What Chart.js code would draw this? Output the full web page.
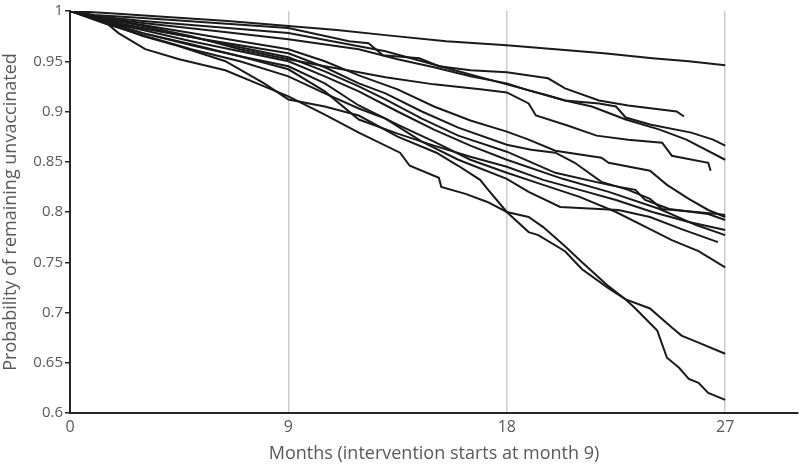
<!DOCTYPE html>
<html>
<head>
<meta charset="utf-8">
<script src="https://cdn.jsdelivr.net/npm/chart.js@4"></script>
<style>
  html, body { margin: 0; padding: 0; background: #fff; }
  #wrap { width: 800px; height: 465px; }
</style>
</head>
<body>
<div id="wrap"><canvas id="kmChart" width="800" height="465"></canvas></div>
<script>
// tick labels
const xTicks = [0, 9, 18, 27];
const yTicks = [0.6, 0.65, 0.7, 0.75, 0.8, 0.85, 0.9, 0.95, 1];

// one array per curve: [month, probability remaining unvaccinated]
const curveA = [[0,1],[1.5,.998],[4,.994],[6.5,.990],[9,.985],[11,.981],[13,.976],[15.5,.970],[18,.966],[20,.962],[22,.958],[24,.953],[25.5,.950],[27,.946]];
const curveB = [[0,1],[1,.996],[3,.993],[6,.988],[9,.983],[11.5,.970],[12.3,.968],[12.9,.956],[14.4,.953],[15.2,.945],[16.5,.941],[18,.939],[19.7,.933],[20.4,.923],[21.8,.911],[23,.906],[25,.900],[25.3,.895]];
const curveC = [[0,1],[1,.995],[3,.990],[6,.984],[9,.978],[11.9,.965],[13,.960],[14.5,.950],[16,.940],[18,.927],[19.7,.916],[20.4,.911],[21.8,.908],[22.5,.905],[22.9,.894],[23.9,.887],[25.6,.879],[26.5,.872],[27,.866]];
const curveD = [[0,1],[1,.994],[3,.988],[6,.980],[9,.972],[11.9,.962],[13.5,.952],[15,.944],[16.5,.935],[18,.928],[18.9,.921],[20.4,.911],[21.5,.905],[22.9,.892],[24.3,.882],[25.4,.872],[27,.852]];
const curveE = [[0,1],[1.5,.992],[3,.985],[5,.975],[7,.962],[9,.952],[10.5,.945],[11.9,.939],[13,.934],[15,.927],[17,.922],[18,.919],[18.9,.908],[19.2,.896],[20.5,.886],[21.7,.876],[23,.872],[24.4,.869],[24.8,.856],[26.3,.849],[26.4,.841]];
const curveF = [[0,1],[1,.994],[3,.986],[5,.978],[7,.970],[9,.962],[10.5,.950],[11.9,.936],[13.5,.922],[15,.905],[16.5,.891],[18,.880],[18.9,.872],[20,.861],[21.9,.854],[22.2,.849],[23.9,.841],[24.6,.827],[25.5,.813],[26.3,.802],[27,.795]];
const curveG = [[0,1],[1,.993],[2.5,.985],[4.5,.976],[7,.966],[9,.958],[10.5,.944],[11.9,.928],[13,.918],[14.5,.900],[16,.884],[18,.867],[19,.862],[20,.859],[20.8,.849],[21.9,.830],[23,.822],[23.9,.813],[24.4,.803],[25.8,.800],[26.7,.798],[27,.797]];
const curveH = [[0,1],[1.5,.990],[3,.983],[5,.974],[7,.964],[9,.954],[10.5,.940],[11.9,.925],[13,.912],[14.5,.893],[16,.876],[18,.860],[20,.839],[22.2,.827],[23.3,.822],[23.7,.812],[24.7,.803],[26.3,.798],[27,.792]];
const curveI = [[0,1],[1.5,.989],[3,.981],[5,.970],[7,.960],[9,.950],[10.5,.935],[11.9,.920],[13.5,.900],[15,.882],[16.5,.866],[18,.852],[20.3,.833],[22.2,.820],[24.3,.803],[25.8,.787],[27,.777]];
const curveK = [[0,1],[1,.993],[3,.978],[5,.966],[7,.955],[9,.942],[10.5,.920],[11.9,.892],[13.5,.878],[15,.866],[16.5,.855],[18,.845],[19.5,.832],[21,.822],[22.5,.812],[24,.800],[25.5,.790],[27,.782]];
const curveL = [[0,1],[1.5,.988],[3,.978],[5,.967],[7,.955],[9,.945],[10.5,.928],[11.9,.906],[13.5,.887],[15,.870],[16.5,.852],[18,.839],[19.5,.827],[21,.815],[22.5,.800],[23.9,.783],[24.8,.772],[25.9,.761],[27,.745]];
const curveJ = [[0,1],[1.5,.987],[3,.976],[5,.962],[7,.950],[9,.935],[10.5,.918],[11.9,.903],[13,.893],[14.5,.870],[16,.852],[18,.833],[18.9,.820],[20.2,.805],[22.6,.802],[23.9,.795],[25.2,.783],[26.7,.770]];
const curveM = [[0,1],[1.4,.990],[2,.978],[3.1,.962],[4.5,.952],[6.4,.941],[8,.925],[9,.915],[10.5,.897],[11.9,.879],[13.6,.859],[14,.846],[15.2,.834],[15.3,.825],[16.3,.818],[17.2,.810],[18,.800],[18.9,.795],[19.5,.785],[20.4,.766],[21.1,.750],[22.2,.726],[22.9,.713],[23.9,.704],[24.8,.685],[25.2,.677],[25.9,.670],[27,.659]];
const curveN = [[0,1],[1.5,.988],[3,.975],[4.5,.965],[6.4,.950],[8,.928],[9,.912],[10.5,.905],[11.9,.896],[13.5,.875],[15.1,.859],[16,.846],[16.9,.832],[17.2,.823],[18,.800],[18.9,.780],[19.3,.777],[20.4,.761],[21.1,.743],[22.2,.724],[22.9,.713],[23.3,.704],[24.2,.682],[24.6,.655],[25.1,.645],[25.5,.634],[25.9,.630],[26.3,.620],[27,.613]];

const curves = [curveA, curveB, curveC, curveD, curveE, curveF, curveG, curveH, curveI, curveK, curveL, curveJ, curveM, curveN];

const fontFamily = '"Open Sans", "Liberation Sans", sans-serif';
const textColor = '#595959';

new Chart(document.getElementById('kmChart'), {
    type: 'line',
    data: {
        datasets: curves.map(c => ({
            data: c.map(p => ({x: p[0], y: p[1]})),
            borderColor: '#1a1a1a',
            borderWidth: 2,
            pointRadius: 0,
            tension: 0,
            fill: false
        }))
    },
    options: {
        responsive: false,
        animation: false,
        layout: { padding: { top: 7, right: 2, left: 0, bottom: 0 } },
        plugins: { legend: { display: false }, tooltip: { enabled: false } },
        scales: {
            x: {
                type: 'linear',
                min: 0,
                max: 30,
                afterBuildTicks: s => { s.ticks = xTicks.map(v => ({value: v})); },
                afterFit: s => { s.height = 52; },
                border: { color: '#262626', width: 2 },
                grid: {
                    color: '#cccccc',
                    lineWidth: 1.5,
                    drawTicks: false
                },
                ticks: {
                    color: textColor,
                    padding: 5,
                    maxRotation: 0,
                    font: { family: fontFamily, size: 16 }
                },
                title: {
                    display: true,
                    text: 'Months (intervention starts at month 9)',
                    color: textColor,
                    padding: { top: 0, bottom: 0 },
                    font: { family: fontFamily, size: 18 }
                }
            },
            y: {
                min: 0.6,
                max: 1,
                afterBuildTicks: s => { s.ticks = yTicks.map(v => ({value: v})); },
                afterFit: s => { s.width = 70; },
                border: { color: '#262626', width: 2 },
                grid: {
                    drawOnChartArea: false,
                    drawTicks: true,
                    tickLength: 5,
                    tickColor: '#262626',
                    lineWidth: 1.5
                },
                ticks: {
                    color: textColor,
                    padding: 2,
                    font: { family: fontFamily, size: 15 },
                    callback: v => String(+v.toFixed(2))
                },
                title: {
                    display: true,
                    text: 'Probability of remaining unvaccinated',
                    color: textColor,
                    padding: { top: 0, bottom: 2 },
                    font: { family: fontFamily, size: 18 }
                }
            }
        }
    }
});
</script>
</body>
</html>
